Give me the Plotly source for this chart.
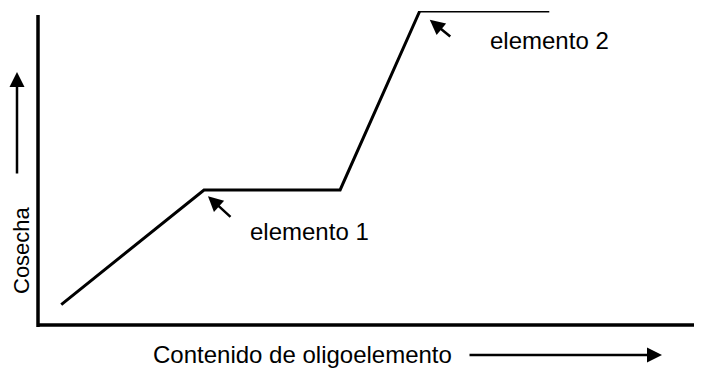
import plotly.graph_objects as go

# Data (arbitrary units)
contenido = [0.35, 2.5, 4.55, 5.75, 7.7]
cosecha = [0.65, 4.3, 4.3, 10.0, 10.0]

etiquetas = ["elemento 1", "elemento 2"]
punto_x = [2.56, 5.9]
punto_y = [4.1, 9.72]

OFF = 8  # default body margin of the page
W, H = 702 - OFF, 369 - OFF
L, R, T, B = 38 - OFF, 0, 11 - OFF, 369 - 325
pw, ph = W - L - R, H - T - B

def px(x):  # page pixel -> paper fraction
    return (x - OFF - L) / pw

def py(y):
    return (H - B - (y - OFF)) / ph

FONT = "Liberation Sans, Arial, sans-serif"

fig = go.Figure()
fig.add_trace(go.Scatter(x=contenido, y=cosecha, mode="lines",
                         line=dict(color="black", width=3), hoverinfo="skip"))

ann = []
for (xx, yy, dx, dy) in [(punto_x[0], punto_y[0], 24, 22), (punto_x[1], punto_y[1], 22, 18)]:
    ann.append(dict(x=xx, y=yy, xref="x", yref="y", ax=dx, ay=dy, text="",
                    showarrow=True, arrowhead=2, arrowsize=1.2, arrowwidth=2.5,
                    arrowcolor="black"))
ann.append(dict(x=px(248), y=py(231), xref="paper", yref="paper", text=etiquetas[0],
                showarrow=False, xanchor="left", yanchor="middle",
                font=dict(family=FONT, size=24, color="black")))
ann.append(dict(x=px(488), y=py(41), xref="paper", yref="paper", text=etiquetas[1],
                showarrow=False, xanchor="left", yanchor="middle",
                font=dict(family=FONT, size=24, color="black")))
ann.append(dict(x=px(151), y=py(354), xref="paper", yref="paper",
                text="Contenido de oligoelemento", showarrow=False,
                xanchor="left", yanchor="middle",
                font=dict(family=FONT, size=24, color="black")))
ann.append(dict(x=px(22), y=py(250), xref="paper", yref="paper",
                text="Cosecha", showarrow=False, textangle=-90,
                xanchor="center", yanchor="middle", borderpad=0,
                font=dict(family=FONT, size=22, color="black")))
ann.append(dict(x=px(662), y=py(355), xref="paper", yref="paper", ax=-194, ay=0,
                text="", showarrow=True, arrowhead=2, arrowsize=1.2, arrowwidth=2.5,
                arrowcolor="black"))
ann.append(dict(x=px(17), y=py(72), xref="paper", yref="paper", ax=0, ay=103,
                text="", showarrow=True, arrowhead=2, arrowsize=1.2, arrowwidth=2.5,
                arrowcolor="black"))

shapes = [
    dict(type="line", xref="paper", yref="paper", x0=0, x1=0, y0=py(327), y1=py(15),
         line=dict(color="black", width=3.5)),
    dict(type="line", xref="paper", yref="paper", x0=px(37), x1=1, y0=0, y1=0,
         line=dict(color="black", width=3.5)),
]

fig.update_layout(
    width=W, height=H,
    margin=dict(l=L, r=R, t=T, b=B),
    paper_bgcolor="white", plot_bgcolor="white",
    showlegend=False,
    xaxis=dict(range=[0, 10], visible=False),
    yaxis=dict(range=[0, 10], visible=False),
    annotations=ann, shapes=shapes,
)
fig.write_html("out.html")
